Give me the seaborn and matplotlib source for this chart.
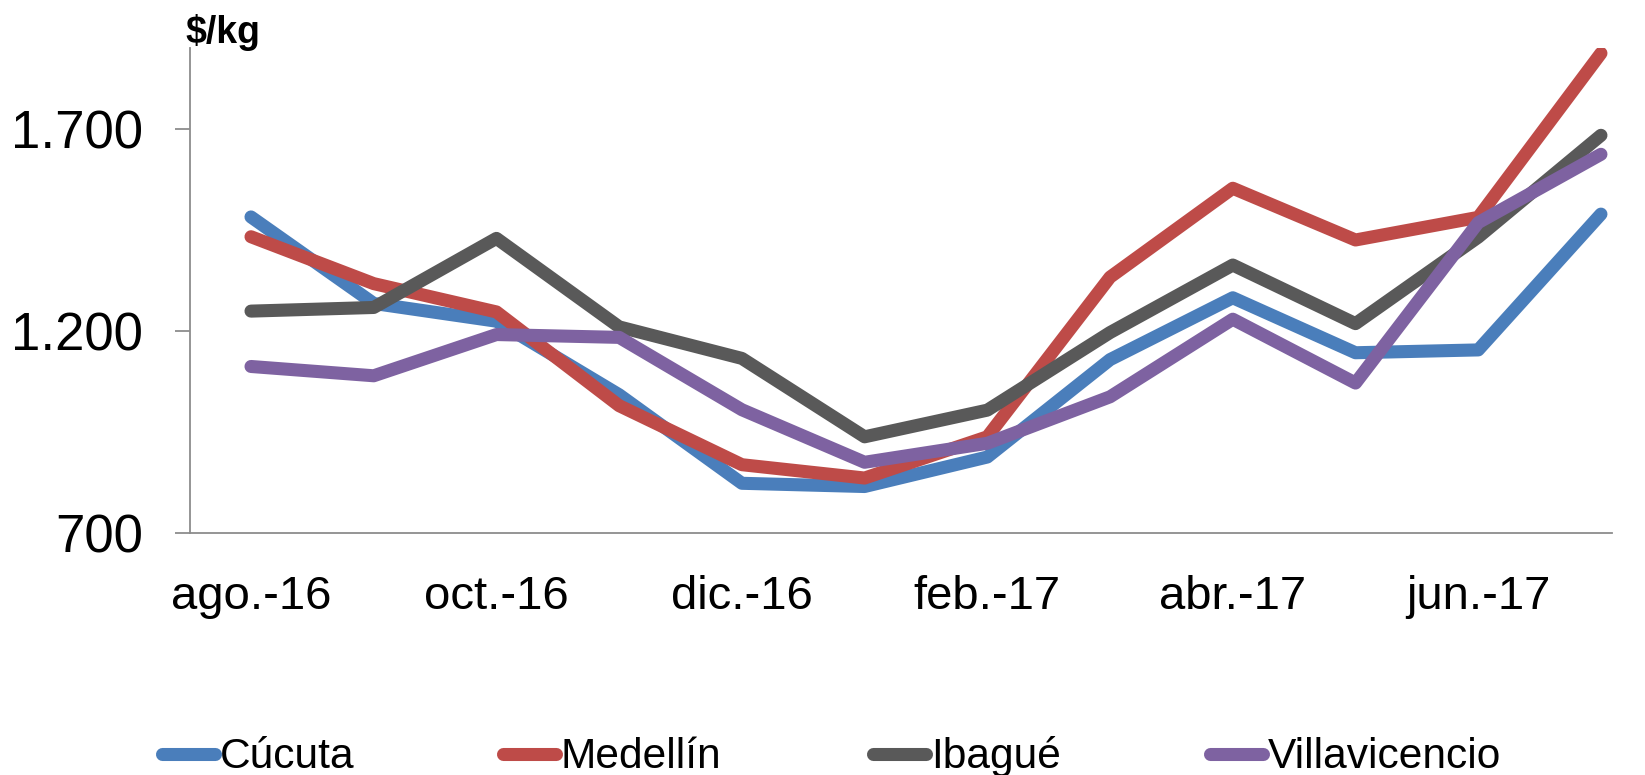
import numpy as np
import pandas as pd
import matplotlib
matplotlib.use("Agg")
import matplotlib.pyplot as plt
from matplotlib.lines import Line2D
import seaborn as sns

# monthly prices ($/kg)
months = ["ago.-16", "sep.-16", "oct.-16", "nov.-16", "dic.-16", "ene.-17",
          "feb.-17", "mar.-17", "abr.-17", "may.-17", "jun.-17", "jul.-17"]
cucuta = [1482, 1268, 1224, 1042, 823, 815, 888, 1129, 1282, 1146, 1153, 1489]
medellin = [1433, 1317, 1247, 1015, 869, 836, 938, 1333, 1553, 1425, 1481, 1887]
ibague = [1249, 1258, 1429, 1210, 1132, 938, 1004, 1196, 1363, 1218, 1432, 1684]
villavicencio = [1112, 1089, 1191, 1184, 1005, 875, 922, 1037, 1229, 1071, 1468, 1637]

cities = ["Cúcuta", "Medellín", "Ibagué", "Villavicencio"]
colors = ["#4A7EBB", "#BE4B48", "#595959", "#7E62A1"]

df = pd.DataFrame({"mes": months * 4,
                   "precio": cucuta + medellin + ibague + villavicencio,
                   "ciudad": np.repeat(cities, len(months))})

sns.set_style("white")
plt.rcParams["font.family"] = ["Liberation Sans", "DejaVu Sans"]
plt.rcParams["text.color"] = "black"

fig = plt.figure(figsize=(16.45, 7.75), dpi=100)
ax = fig.add_axes([190/1645, 1-533/775, (1612-190)/1645, (533-48)/775])

sns.lineplot(data=df, x="mes", y="precio", hue="ciudad", palette=colors,
             sort=False, legend=False, ax=ax)
for line in ax.lines:
    line.set_linewidth(9.4)
    line.set_solid_capstyle("round")
    line.set_solid_joinstyle("round")

ax.set_xlim(-0.497, 11.09)
ax.set_ylim(700, 1900)
ax.set_yticks([700, 1200, 1700])
ax.set_yticklabels(["700", "1.200", "1.700"])
ax.set_xticks(range(0, 12, 2))
ax.set_xticklabels(months[::2])
ax.set_xlabel("")
ax.set_ylabel("")

for s in ["top", "right"]:
    ax.spines[s].set_visible(False)
for s in ["left", "bottom"]:
    ax.spines[s].set_color("#8C8C8C")
    ax.spines[s].set_linewidth(1.3)

ax.tick_params(axis="y", length=11, width=1.3, color="#8C8C8C", pad=23,
               labelsize=38, labelcolor="black", direction="out", left=True)
ax.tick_params(axis="x", length=0, pad=30, labelsize=34, labelcolor="black")

fig.text(185/1645, 1-43/775, "$/kg", fontsize=27, fontweight="bold",
         va="baseline", ha="left", color="black")

# legend drawn by hand so all labels share one baseline
leg_x = [156, 497, 867, 1204]
for x0, name, c in zip(leg_x, cities, colors):
    fig.add_artist(Line2D([(x0 + 6)/1645, (x0 + 59)/1645],
                          [1-754/775, 1-754/775], transform=fig.transFigure,
                          color=c, lw=9.4, solid_capstyle="round"))
    fig.text((x0 + 64)/1645, 1-768/775, name, fontsize=30.6,
             va="baseline", ha="left", color="black")

fig.savefig("out.png", dpi=100)
